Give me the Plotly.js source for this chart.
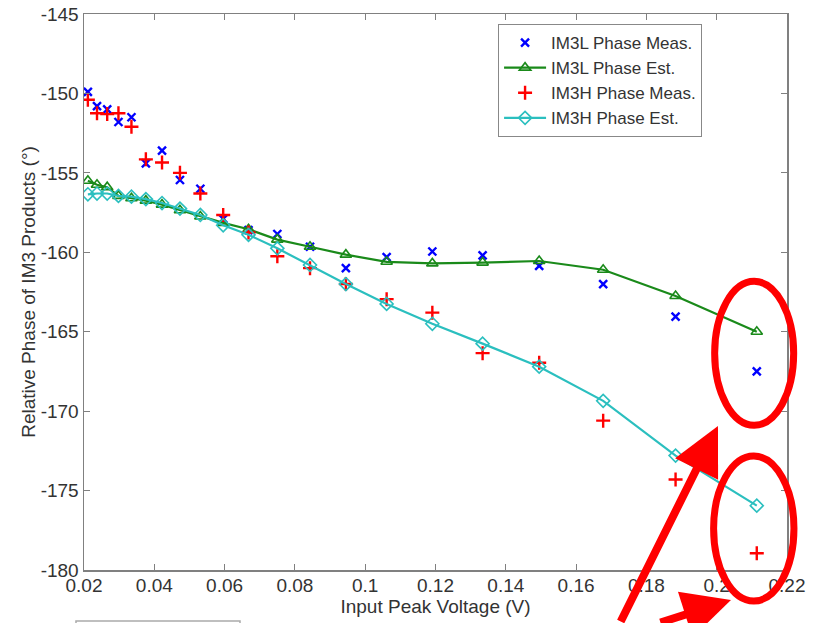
<!DOCTYPE html>
<html>
<head>
<meta charset="utf-8">
<script src="https://cdn.plot.ly/plotly-3.0.1.min.js"></script>
<style>html,body{margin:0;padding:0;background:#fff;}#chart{width:827px;height:623px;}</style>
</head>
<body>
<div id="chart"></div>
<script>
// Input peak voltage (V)
const voltage = [0.0211, 0.0237, 0.0266, 0.0298, 0.0335, 0.0376, 0.0422, 0.0473, 0.0531, 0.0596, 0.0668,
                 0.0750, 0.0843, 0.0945, 0.1061, 0.1191, 0.1334, 0.1495, 0.1677, 0.1883, 0.2114];
const im3lMeas = [-149.9, -150.8, -151.0, -151.8, -151.5, -154.4, -153.6, -155.45, -156.0, -157.9, -158.6,
                  -158.85, -159.65, -161.0, -160.3, -159.95, -160.2, -160.85, -162.0, -164.05, -167.5];
const im3lEst = [-155.5, -155.75, -155.9, -156.45, -156.6, -156.75, -157.0, -157.35, -157.75, -158.15, -158.55,
                 -159.2, -159.65, -160.15, -160.6, -160.7, -160.65, -160.55, -161.1, -162.75, -165.0];
const im3hMeas = [-150.4, -151.25, -151.3, -151.25, -152.1, -154.15, -154.35, -155.0, -156.3, -157.65, -158.75,
                  -160.25, -161.0, -162.0, -162.95, -163.8, -166.35, -166.95, -170.6, -174.3, -178.95];
const im3hEst = [-156.35, -156.3, -156.3, -156.45, -156.5, -156.65, -156.9, -157.25, -157.65, -158.3, -158.9,
                 -159.75, -160.8, -162.0, -163.25, -164.5, -165.75, -167.2, -169.35, -172.8, -175.95];
const seriesNames = ['IM3L Phase Meas.', 'IM3L Phase Est.', 'IM3H Phase Meas.', 'IM3H Phase Est.'];
const xTicks = [0.02, 0.04, 0.06, 0.08, 0.1, 0.12, 0.14, 0.16, 0.18, 0.2, 0.22];
const xTickText = ['0.02', '0.04', '0.06', '0.08', '0.1', '0.12', '0.14', '0.16', '0.18', '0.2', '0.22'];
const yTicks = [-180, -175, -170, -165, -160, -155, -150, -145];
const yTickText = ['-180', '-175', '-170', '-165', '-160', '-155', '-150', '-145'];

const FONT = 'Liberation Sans, Arial, Helvetica, sans-serif';
const TXT = '#333333';
const traces = [
  {x: voltage, y: im3lMeas, name: seriesNames[0], type: 'scatter', mode: 'markers',
   marker: {symbol: 'x-thin', size: 8, color: '#0000ff', line: {color: '#0000ff', width: 2.4}}},
  {x: voltage, y: im3lEst, name: seriesNames[1], type: 'scatter', mode: 'lines+markers',
   line: {color: '#1a8a1a', width: 2.2},
   marker: {symbol: 'triangle-up-open', size: 10, color: '#1a8a1a', line: {color: '#1a8a1a', width: 1.6}}},
  {x: voltage, y: im3hMeas, name: seriesNames[2], type: 'scatter', mode: 'markers',
   marker: {symbol: 'cross-thin', size: 10, color: '#ff0000', line: {color: '#ff0000', width: 2.4}}},
  {x: voltage, y: im3hEst, name: seriesNames[3], type: 'scatter', mode: 'lines+markers',
   line: {color: '#2bbfbf', width: 2.2},
   marker: {symbol: 'diamond-open', size: 10, color: '#2bbfbf', line: {color: '#2bbfbf', width: 1.6}}}
];

const layout = {
  width: 827, height: 623,
  margin: {l: 84, r: 40, t: 14, b: 53, pad: 0},
  paper_bgcolor: '#ffffff', plot_bgcolor: '#ffffff',
  font: {family: FONT, size: 19, color: TXT},
  showlegend: true,
  legend: {x: 0.589, y: 0.982, xanchor: 'left', yanchor: 'top', bgcolor: '#ffffff',
           bordercolor: '#888888', borderwidth: 1, font: {family: FONT, size: 17, color: TXT},
           tracegroupgap: 0, itemwidth: 42},
  xaxis: {range: [0.02, 0.22], tickvals: xTicks, ticktext: xTickText, ticks: 'inside', ticklen: 6, tickcolor: '#808080',
          showline: true, linecolor: '#808080', linewidth: 1.5, mirror: 'ticks', showgrid: false, zeroline: false,
          ticklabelstandoff: -2,
          tickfont: {family: FONT, size: 19, color: TXT},
          title: {text: 'Input Peak Voltage (V)', font: {family: FONT, size: 19, color: TXT}, standoff: 3}},
  yaxis: {range: [-180, -145], tickvals: yTicks, ticktext: yTickText, ticks: 'inside', ticklen: 6, tickcolor: '#808080',
          showline: true, linecolor: '#808080', linewidth: 1.5, mirror: 'ticks', showgrid: false, zeroline: false,
          tickfont: {family: FONT, size: 19, color: TXT},
          title: {text: 'Relative Phase of IM3 Products (°)', font: {family: FONT, size: 19, color: TXT}, standoff: 0}},
  shapes: [
    {type: 'circle', xref: 'paper', yref: 'paper', x0: 0.8971, x1: 1.0095, y0: 0.2603, y1: 0.5192,
     line: {color: '#ff0000', width: 7}},
    {type: 'circle', xref: 'paper', yref: 'paper', x0: 0.8956, x1: 1.0099, y0: -0.0558, y1: 0.205,
     line: {color: '#ff0000', width: 7}},
    {type: 'rect', xref: 'paper', yref: 'paper', x0: -0.0114, x1: 0.2219, y0: -0.0917, y1: -0.2,
     line: {color: '#aaaaaa', width: 1.5}}
  ],
  annotations: [
    {xref: 'paper', yref: 'paper', x: 0.9018, y: 0.259, showarrow: true, ax: -98, ay: 206,
     arrowcolor: '#ff0000', arrowwidth: 8, arrowhead: 2, arrowsize: 1.2, text: ''},
    {xref: 'paper', yref: 'paper', x: 0.9203, y: -0.054, showarrow: true, ax: -72, ay: 60,
     arrowcolor: '#ff0000', arrowwidth: 8, arrowhead: 2, arrowsize: 1.2, text: ''}
  ]
};

Plotly.newPlot('chart', traces, layout, {staticPlot: true, displayModeBar: false});
</script>
</body>
</html>
